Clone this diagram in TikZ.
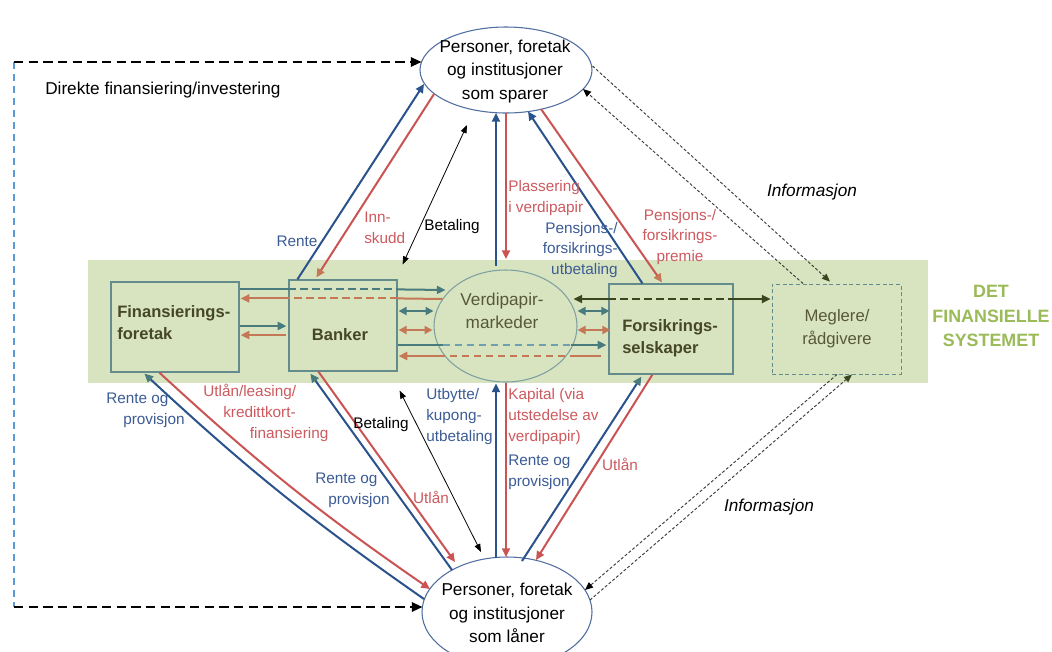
\documentclass[tikz,border=0pt]{standalone}
\usepackage{fontspec}
\setmainfont{Liberation Sans}
\usetikzlibrary{arrows.meta,shapes.geometric,calc}
\definecolor{bandc}{RGB}{216,228,192}
\definecolor{bluec}{RGB}{42,82,140}
\definecolor{redc}{RGB}{202,84,84}
\definecolor{tealc}{RGB}{72,122,126}
\definecolor{tealL}{RGB}{112,160,176}
\definecolor{orc}{RGB}{196,120,86}
\definecolor{olivec}{RGB}{58,70,30}
\definecolor{boxline}{RGB}{100,140,140}
\definecolor{elline}{RGB}{80,110,160}
\definecolor{verdline}{RGB}{125,160,160}
\definecolor{txtol}{RGB}{70,70,40}
\definecolor{txtol2}{RGB}{88,88,56}
\definecolor{lblblue}{RGB}{60,92,150}
\definecolor{lblred}{RGB}{205,90,95}
\definecolor{detgreen}{RGB}{155,187,89}
\definecolor{lightbluec}{RGB}{91,155,213}
\definecolor{infoc}{RGB}{60,60,60}
\tikzset{
  bigf/.style={font=\fontsize{12.9}{17.6}\selectfont, inner sep=0pt},
  ellN/.style={ellipse, draw=elline, line width=0.8pt, fill=white, inner sep=0pt},
  boxn/.style={rectangle, draw=boxline, line width=0.9pt, inner sep=0pt},
  boxtxt/.style={font=\bfseries\fontsize{12.4}{16.3}\selectfont, text=txtol, align=left, inner sep=0pt},
  lbl/.style={font=\fontsize{11.5}{15.5}\selectfont, inner sep=0pt, align=left},
  lb/.style={lbl, text=lblblue},
  lr/.style={lbl, text=lblred},
  infolbl/.style={font=\fontsize{12.9}{16}\selectfont\itshape, inner sep=0pt},
  bl/.style={draw=bluec, line width=1.5pt},
  rd/.style={draw=redc, line width=1.5pt},
  tl/.style={draw=tealc, line width=1.5pt},
  tlL/.style={draw=tealL, line width=1.5pt},
  orl/.style={draw=orc, line width=1.5pt},
  oll/.style={draw=olivec, line width=1.5pt},
  dashS/.style={dash pattern=on 5.5pt off 3.5pt},
  thinblk/.style={draw=black, line width=0.6pt},
  info/.style={draw=infoc, line width=0.7pt, dash pattern=on 2.2pt off 1.5pt},
  tipP/.style={-{Triangle[length=6.5pt,width=6pt]}},
  tipC/.style={-{Triangle[length=6.5pt,width=6pt,color=#1]}},
  dblP/.style={{Triangle[length=6pt,width=6pt]}-{Triangle[length=6pt,width=6pt]}},
  thinDbl/.style={{Triangle[length=6pt,width=4.5pt]}-{Triangle[length=6pt,width=4.5pt]}},
  tipO/.style={-{Triangle[length=6pt,width=5pt,color=olivec]}},
  tipK/.style={-{Triangle[length=6pt,width=5pt,color=black]}},
  bigdash/.style={draw=black, line width=1.5pt, dash pattern=on 7pt off 4pt},
  bigtip/.style={-{Triangle[length=8pt,width=7pt]}},
}
\begin{document}
\begin{tikzpicture}[x=0.75pt,y=-0.75pt]
\useasboundingbox (0,0) rectangle (1052,651);
\clip (0,0) rectangle (1052,651);
\fill[white] (0,0) rectangle (1052,651);
% band
\fill[bandc] (88,260) rectangle (928,383);

% main nodes
\node[boxn, minimum width=96pt, minimum height=67.5pt] (fin) at (175,327) {};
\node[boxn, minimum width=81pt, minimum height=68.25pt] (bank) at (343,325.5) {};
\node[boxn, minimum width=93pt, minimum height=67.5pt] (fors) at (671,329) {};
\node[rectangle, draw=boxline, dash pattern=on 3pt off 2pt, line width=0.7pt, inner sep=0pt, minimum width=96.75pt, minimum height=67.5pt] (megl) at (836.5,329) {};
\node[ellipse, draw=verdline, line width=0.8pt, inner sep=0pt, minimum width=107.25pt, minimum height=84pt] (verd) at (505.5,326) {};
\node[ellN, minimum width=129pt, minimum height=64.5pt] (spar) at (506,70) {};
\node[ellN, minimum width=127.5pt, minimum height=82.5pt] (laan) at (507,612) {};

% node texts
\node[boxtxt, anchor=west] (finT) at (117,322.5) {Finansierings-\\foretak};
\node[boxtxt] (bankT) at (340,335) {Banker};
\node[boxtxt, anchor=west] (forsT) at (622,338) {Forsikrings-\\selskaper};
\node[bigf, text=txtol2, align=center] (verdT) at (502,311) {Verdipapir-\\markeder};
\node[bigf, text=txtol2, align=center, font=\fontsize{12.5}{17.4}\selectfont] (meglT) at (837,328.5) {Meglere/\\rådgivere};
\node[font=\bfseries\fontsize{13.4}{18.4}\selectfont, text=detgreen, align=center, inner sep=0pt] (det) at (991,316) {DET\\FINANSIELLE\\SYSTEMET};
\node[bigf, align=center] (sparT) at (505,71.5) {Personer, foretak\\og institusjoner\\som sparer};
\node[bigf, align=center] (laanT) at (507,613) {Personer, foretak\\og institusjoner\\som låner};

% direct financing loop
\coordinate (dTL) at (14,62);
\coordinate (dBL) at (14,607);
\draw[draw=lightbluec, line width=1.2pt, dash pattern=on 5.5pt off 3.5pt] (dTL) -- (dBL);
\draw[bigdash, bigtip] (dTL) -- ($(spar.center)+(-84.5,-8)$);
\draw[bigdash, bigtip] (dBL) -- ($(laan.center)+(-84.5,-5)$);
\node[bigf, anchor=west] (direkte) at (45,90) {Direkte finansiering/investering};

% ---- top connectors
\draw[bl, tipP] ($(bank.north west)+(9,0)$) -- ($(spar.center)+(-82,14)$);
\draw[rd, tipC=orc] ($(spar.center)+(-72,24)$) -- ($(bank.north west)+(28,-2)$);
\draw[thinblk, thinDbl] ($(bank.north east)+(5,-15)$) -- ($(spar.center)+(-39,55)$);
\draw[bl, tipP] ($(verd.center)+(-9.5,-60)$) -- ($(spar.center)+(-10,43)$);
\draw[rd, tipP] ($(spar.center)+(0,43)$) -- ($(verd.center)+(0.5,-67)$);
\draw[bl, tipP] ($(fors.north west)+(34,0)$) -- ($(spar.center)+(22,41.5)$);
\draw[rd, tipC=orc] ($(spar.center)+(35,39)$) -- ($(fors.north)+(-9,-1)$);
\draw[info, tipO] ($(spar.east)+(0,-4)$) -- ($(megl.north)+(-6.5,-2)$);
\draw[info, tipK] ($(megl.north)+(-33.5,0)$) -- ($(spar.center)+(77,19)$);

% ---- bottom connectors
\draw[info, tipO] ($(laan.center)+(83,-12)$) -- ($(megl.south)+(15.5,0)$);
\draw[info, tipK] ($(megl.south)+(0.5,0)$) -- ($(laan.center)+(78,-22)$);
\draw[bl, tipC=tealc] ($(laan.center)+(-83,-13)$) to[bend left=4] ($(fin.south west)+(34,1)$);
\draw[rd, tipP] ($(fin.south west)+(49,0)$) to[bend right=4] ($(laan.center)+(-77,-23)$);
\draw[bl, tipC=tealc] ($(laan.center)+(-55,-42)$) -- ($(bank.south west)+(22,2)$);
\draw[rd, tipP] ($(bank.south west)+(30,0)$) -- ($(laan.center)+(-52,-50)$);
\draw[thinblk, thinDbl] ($(bank.south east)+(2,19)$) -- ($(laan.center)+(-26,-60)$);
\draw[bl, tipP] ($(laan.center)+(-11,-54)$) -- ($(verd.south)+(-9.5,1)$);
\draw[rd, tipP] ($(verd.south)+(0.5,0)$) -- ($(laan.center)+(-1,-55)$);
\draw[bl, tipC=tealc] ($(laan.center)+(15,-51)$) -- ($(fors.south west)+(33,2)$);
\draw[rd, tipP] ($(fors.south west)+(44,0)$) -- ($(laan.center)+(29,-52)$);

% ---- band connectors
\draw[tl, tipP] ($(fin.east)+(0,-1)$) -- ($(bank.west)+(-2,0.5)$);
\draw[orl, tipP] ($(bank.west)+(-2,9.5)$) -- ($(fin.east)+(1,8)$);
\draw[tl] ($(fin.north east)+(0,8)$) -- ($(bank.north west)+(0,10)$);
\draw[tl, dashS] ($(bank.north west)+(0,10)$) -- ($(bank.north east)+(0,10)$);
\draw[tl, tipP] ($(bank.north east)+(0,10)$) -- ($(verd.center)+(-60,-36)$);
\draw[orl] ($(verd.center)+(-63,-27)$) -- ($(bank.north east)+(0,19)$);
\draw[orl, dashS] ($(bank.north east)+(0,19)$) -- ($(bank.north west)+(0,19)$);
\draw[orl, tipP] ($(bank.north west)+(0,19)$) -- ($(fin.north east)+(1,17)$);
\draw[tl, dblP] ($(bank.east)+(1,-14.5)$) -- ($(verd.center)+(-72,-15)$);
\draw[orl, dblP] ($(bank.east)+(1,4.5)$) -- ($(verd.center)+(-73,4)$);
\draw[tl] ($(bank.east)+(0,19.5)$) -- ($(verd.center)+(-63,19)$);
\draw[tlL, dashS] ($(verd.center)+(-63,19)$) -- ($(verd.center)+(65,19)$);
\draw[tl, tipP] ($(verd.center)+(65,19)$) -- ($(fors.west)+(-2,16)$);
\draw[orl] ($(fors.west)+(-7,27)$) -- ($(verd.center)+(71.5,30)$);
\draw[orl, dashS] ($(verd.center)+(71.5,30)$) -- ($(verd.center)+(-67.5,30)$);
\draw[orl, tipP] ($(verd.center)+(-67.5,30)$) -- ($(bank.east)+(1,30.5)$);
\draw[tl, dblP] ($(verd.center)+(72,-15)$) -- ($(fors.west)+(1,-18)$);
\draw[orl, dblP] ($(verd.center)+(72,4)$) -- ($(fors.west)+(2,1)$);
\draw[oll, tipP] ($(fors.west)+(0,-30)$) -- ($(verd.center)+(68,-27)$);
\draw[oll, dashS] ($(fors.west)+(0,-30)$) -- ($(fors.east)+(0,-30)$);
\draw[oll, tipP] ($(fors.east)+(0,-30)$) -- ($(megl.west)+(-1,-30)$);

% ---- labels
\node[lb] (l1) at (297,241) {Rente};
\node[lr, anchor=west] (l2) at (364,228) {Inn-\\skudd};
\node[lbl] (l3) at (452,227) {Betaling};
\node[lr, anchor=west] (l4) at (508,198) {Plassering\\i verdipapir};
\node[lb, anchor=east, align=right] (l5) at (618,250) {Pensjons-/\\forsikrings-\\utbetaling};
\node[lr, align=center] (l6) at (680,237) {Pensjons-/\\forsikrings-\\premie};
\node[infolbl] (i1) at (812,192) {Informasjon};
\node[infolbl] (i2) at (769,507) {Informasjon};
\node[lb, anchor=west] (l7) at (106,410) {Rente og\\\hspace*{12.75pt}provisjon};
\node[lr, anchor=west] (l8) at (203,413) {Utlån/leasing/\\\hspace*{15pt}kredittkort-\\\hspace*{35pt}finansiering};
\node[lbl] (l9) at (381,425) {Betaling};
\node[lb, anchor=west] (l10) at (315,490) {Rente og\\\hspace*{9.75pt}provisjon};
\node[lr] (l11) at (431,497) {Utlån};
\node[lb, anchor=west] (l12) at (426,416.5) {Utbytte/\\kupong-\\utbetaling};
\node[lr, anchor=west] (l13) at (508,416.5) {Kapital (via\\utstedelse av\\verdipapir)};
\node[lb, anchor=west] (l14) at (508,472) {Rente og\\provisjon};
\node[lr] (l15) at (620,464) {Utlån};
\end{tikzpicture}
\end{document}
